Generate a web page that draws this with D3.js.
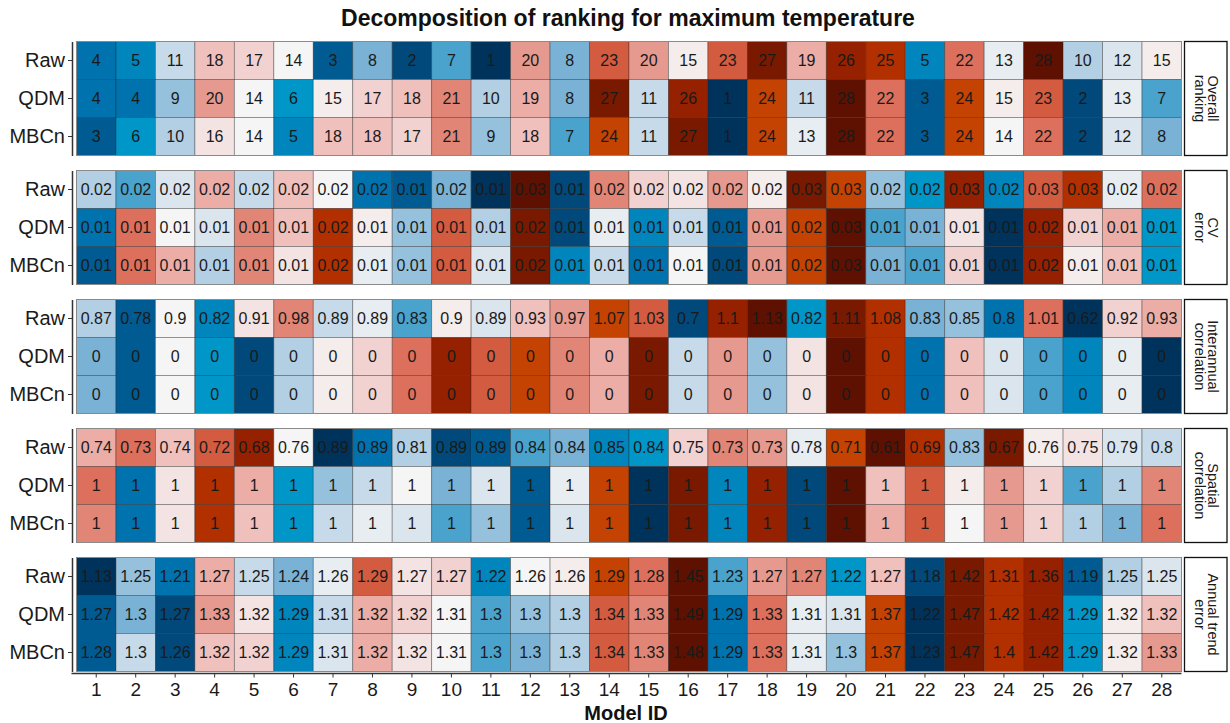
<!DOCTYPE html>
<html>
<head>
<meta charset="utf-8">
<script src="https://cdn.jsdelivr.net/npm/d3@7"></script>
<style>
  body { margin: 0; background: #fff; }
  svg { font-family: "Liberation Sans", Arial, sans-serif; }
  .axis text { fill: #1a1a1a; }
  .axis path, .axis line { stroke: #333; }
</style>
</head>
<body>
<div class="heatmap"></div>
<script>
const MODELS = [1, 2, 3, 4, 5, 6, 7, 8, 9, 10, 11, 12, 13, 14, 15, 16, 17, 18, 19, 20, 21, 22, 23, 24, 25, 26, 27, 28];
const METHODS = ["Raw", "QDM", "MBCn"];
const STRIPS = [["Overall", "ranking"], ["CV", "error"], ["Interannual", "correlation"], ["Spatial", "correlation"], ["Annual trend", "error"]];

// Overall ranking (value is also the rank)
const overallRaw  = [4, 5, 11, 18, 17, 14, 3, 8, 2, 7, 1, 20, 8, 23, 20, 15, 23, 27, 19, 26, 25, 5, 22, 13, 28, 10, 12, 15];
const overallQdm  = [4, 4, 9, 20, 14, 6, 15, 17, 18, 21, 10, 19, 8, 27, 11, 26, 1, 24, 11, 28, 22, 3, 24, 15, 23, 2, 13, 7];
const overallMbcn = [3, 6, 10, 16, 14, 5, 18, 18, 17, 21, 9, 18, 7, 24, 11, 27, 1, 24, 13, 28, 22, 3, 24, 14, 22, 2, 12, 8];

// CV error
const cvRaw  = [0.02, 0.02, 0.02, 0.02, 0.02, 0.02, 0.02, 0.02, 0.01, 0.02, 0.01, 0.03, 0.01, 0.02, 0.02, 0.02, 0.02, 0.02, 0.03, 0.03, 0.02, 0.02, 0.03, 0.02, 0.03, 0.03, 0.02, 0.02];
const cvQdm  = [0.01, 0.01, 0.01, 0.01, 0.01, 0.01, 0.02, 0.01, 0.01, 0.01, 0.01, 0.02, 0.01, 0.01, 0.01, 0.01, 0.01, 0.01, 0.02, 0.03, 0.01, 0.01, 0.01, 0.01, 0.02, 0.01, 0.01, 0.01];
const cvMbcn = [0.01, 0.01, 0.01, 0.01, 0.01, 0.01, 0.02, 0.01, 0.01, 0.01, 0.01, 0.02, 0.01, 0.01, 0.01, 0.01, 0.01, 0.01, 0.02, 0.03, 0.01, 0.01, 0.01, 0.01, 0.02, 0.01, 0.01, 0.01];
const cvRankRaw  = [10, 7, 12, 19, 11, 18, 14, 4, 3, 8, 1, 28, 2, 21, 17, 16, 20, 15, 27, 24, 9, 6, 26, 5, 23, 25, 13, 22];
const cvRankQdm  = [4, 22, 14, 12, 21, 18, 25, 15, 9, 23, 10, 27, 2, 13, 5, 11, 3, 20, 24, 28, 7, 8, 16, 1, 26, 17, 19, 6];
const cvRankMbcn = [3, 22, 19, 10, 21, 16, 25, 13, 9, 23, 12, 27, 5, 11, 4, 14, 2, 20, 24, 28, 8, 7, 17, 1, 26, 15, 18, 6];

// Interannual correlation
const interRaw  = [0.87, 0.78, 0.9, 0.82, 0.91, 0.98, 0.89, 0.89, 0.83, 0.9, 0.89, 0.93, 0.97, 1.07, 1.03, 0.7, 1.1, 1.13, 0.82, 1.11, 1.08, 0.83, 0.85, 0.8, 1.01, 0.62, 0.92, 0.93];
const interQdm  = [0, 0, 0, 0, 0, 0, 0, 0, 0, 0, 0, 0, 0, 0, 0, 0, 0, 0, 0, 0, 0, 0, 0, 0, 0, 0, 0, 0];
const interMbcn = [0, 0, 0, 0, 0, 0, 0, 0, 0, 0, 0, 0, 0, 0, 0, 0, 0, 0, 0, 0, 0, 0, 0, 0, 0, 0, 0, 0];
const interRankRaw  = [10, 3, 14, 5, 16, 21, 11, 13, 7, 15, 12, 18, 20, 24, 23, 2, 26, 28, 6, 27, 25, 8, 9, 4, 22, 1, 17, 19];
const interRankQdm  = [8, 3, 14, 6, 2, 10, 15, 17, 22, 26, 23, 24, 21, 19, 27, 11, 20, 9, 16, 28, 25, 4, 18, 12, 7, 5, 13, 1];
const interRankMbcn = [8, 3, 14, 6, 2, 10, 15, 17, 22, 26, 23, 24, 21, 19, 27, 11, 20, 9, 16, 28, 25, 4, 18, 12, 7, 5, 13, 1];

// Spatial correlation
const spatRaw  = [0.74, 0.73, 0.74, 0.72, 0.68, 0.76, 0.89, 0.89, 0.81, 0.89, 0.89, 0.84, 0.84, 0.85, 0.84, 0.75, 0.73, 0.73, 0.78, 0.71, 0.61, 0.69, 0.83, 0.67, 0.76, 0.75, 0.79, 0.8];
const spatQdm  = [1, 1, 1, 1, 1, 1, 1, 1, 1, 1, 1, 1, 1, 1, 1, 1, 1, 1, 1, 1, 1, 1, 1, 1, 1, 1, 1, 1];
const spatMbcn = [1, 1, 1, 1, 1, 1, 1, 1, 1, 1, 1, 1, 1, 1, 1, 1, 1, 1, 1, 1, 1, 1, 1, 1, 1, 1, 1, 1];
const spatRankRaw  = [19, 22, 18, 23, 26, 14, 1, 4, 10, 2, 3, 7, 8, 5, 6, 17, 21, 20, 13, 24, 28, 25, 9, 27, 15, 16, 12, 11];
const spatRankQdm  = [22, 4, 16, 25, 19, 6, 9, 11, 14, 8, 12, 3, 13, 24, 1, 27, 5, 26, 2, 28, 18, 23, 15, 20, 17, 7, 10, 21];
const spatRankMbcn = [21, 4, 16, 25, 18, 6, 11, 13, 12, 7, 9, 3, 12, 24, 1, 27, 5, 26, 2, 28, 19, 23, 14, 20, 17, 10, 8, 22];

// Annual trend error
const trendRaw  = [1.13, 1.25, 1.21, 1.27, 1.25, 1.24, 1.26, 1.29, 1.27, 1.27, 1.22, 1.26, 1.26, 1.29, 1.28, 1.45, 1.23, 1.27, 1.27, 1.22, 1.27, 1.18, 1.42, 1.31, 1.36, 1.19, 1.25, 1.25];
const trendQdm  = [1.27, 1.3, 1.27, 1.33, 1.32, 1.29, 1.31, 1.32, 1.32, 1.31, 1.3, 1.3, 1.3, 1.34, 1.33, 1.49, 1.29, 1.33, 1.31, 1.31, 1.37, 1.22, 1.47, 1.42, 1.42, 1.29, 1.32, 1.32];
const trendMbcn = [1.28, 1.3, 1.26, 1.32, 1.32, 1.29, 1.31, 1.32, 1.32, 1.31, 1.3, 1.3, 1.3, 1.34, 1.33, 1.48, 1.29, 1.33, 1.31, 1.3, 1.37, 1.23, 1.47, 1.4, 1.42, 1.29, 1.32, 1.33];
const trendRankRaw  = [1, 9, 4, 19, 11, 8, 13, 23, 16, 17, 5, 14, 15, 24, 22, 28, 7, 20, 21, 6, 18, 2, 27, 25, 26, 3, 10, 12];
const trendRankQdm  = [3, 8, 2, 20, 16, 5, 11, 19, 17, 14, 7, 9, 10, 23, 21, 28, 4, 22, 13, 12, 24, 1, 27, 25, 26, 6, 15, 18];
const trendRankMbcn = [3, 11, 2, 18, 17, 5, 12, 19, 16, 14, 7, 8, 10, 23, 21, 28, 4, 22, 13, 9, 24, 1, 27, 25, 26, 6, 15, 20];

const PANELS = [
  { values: [overallRaw, overallQdm, overallMbcn], ranks: [overallRaw, overallQdm, overallMbcn] },
  { values: [cvRaw, cvQdm, cvMbcn], ranks: [cvRankRaw, cvRankQdm, cvRankMbcn] },
  { values: [interRaw, interQdm, interMbcn], ranks: [interRankRaw, interRankQdm, interRankMbcn] },
  { values: [spatRaw, spatQdm, spatMbcn], ranks: [spatRankRaw, spatRankQdm, spatRankMbcn] },
  { values: [trendRaw, trendQdm, trendMbcn], ranks: [trendRankRaw, trendRankQdm, trendRankMbcn] }
];

const WIDTH = 1230, HEIGHT = 723;
const LEFT = 76.5, RIGHT = 1181.5;
const PANEL_TOP = 41.5, PANEL_H = 114, PANEL_GAP = 15;
const STRIP_X = 1184.5, STRIP_W = 42.5;

// rank -> fill colour (blue = best, dark red = worst)
const color = d3.scaleLinear()
  .domain([1, 2, 3, 4, 5, 6, 7, 8, 10, 12, 14, 16, 18, 20, 22, 23, 24, 25, 26, 27, 28])
  .range(["#00335c", "#00497a", "#005b92", "#0072ae", "#0085bd", "#0096c8", "#4aa3cc", "#79b2d5",
          "#b3cfe4", "#dbe5ee", "#f5f5f5", "#f4e3e3", "#f0c0bc", "#e69a8f", "#dc705c", "#d35b3f",
          "#c44302", "#b22f00", "#952100", "#791a00", "#5e1100"])
  .interpolate(d3.interpolateRgb)
  .clamp(true);

const svg = d3.select(".heatmap").append("svg").attr("width", WIDTH).attr("height", HEIGHT);

// Title
svg.append("text")
  .attr("x", 628).attr("y", 26)
  .attr("text-anchor", "middle")
  .attr("font-size", 23).attr("font-weight", "bold")
  .attr("fill", "#111")
  .text("Decomposition of ranking for maximum temperature");

const x = d3.scaleBand().domain(MODELS).range([LEFT, RIGHT]);

PANELS.forEach((panel, i) => {
  const top = PANEL_TOP + i * (PANEL_H + PANEL_GAP);
  const y = d3.scaleBand().domain(METHODS).range([top, top + PANEL_H]);

  const cells = [];
  METHODS.forEach((m, r) => {
    MODELS.forEach((id, c) => {
      cells.push({ method: m, model: id, value: panel.values[r][c], rank: panel.ranks[r][c] });
    });
  });

  const g = svg.append("g").attr("class", "panel");

  g.selectAll("rect.cell").data(cells).enter().append("rect")
    .attr("class", "cell")
    .attr("x", d => x(d.model))
    .attr("y", d => y(d.method))
    .attr("width", x.bandwidth())
    .attr("height", y.bandwidth())
    .attr("fill", d => color(d.rank))
    .attr("stroke", "#222")
    .attr("stroke-opacity", 0.45)
    .attr("stroke-width", 0.8);

  g.selectAll("text.val").data(cells).enter().append("text")
    .attr("class", "val")
    .attr("x", d => x(d.model) + x.bandwidth() / 2)
    .attr("y", d => y(d.method) + y.bandwidth() / 2)
    .attr("dy", "0.36em")
    .attr("text-anchor", "middle")
    .attr("font-size", 16)
    .attr("fill", "#1a1a1a")
    .text(d => String(d.value));

  // panel border
  g.append("rect")
    .attr("x", LEFT).attr("y", top)
    .attr("width", RIGHT - LEFT).attr("height", PANEL_H)
    .attr("fill", "none").attr("stroke", "#8a8a8a").attr("stroke-width", 1);

  // y axis
  const yAxis = svg.append("g")
    .attr("class", "axis")
    .attr("transform", `translate(${LEFT - 4.5}, 0)`)
    .call(d3.axisLeft(y).tickSize(4).tickSizeOuter(0).tickPadding(3));
  yAxis.select(".domain").attr("stroke-width", 1.5);
  yAxis.selectAll("text").attr("font-size", 20);

  // strip on the right
  const strip = svg.append("g");
  strip.append("rect")
    .attr("x", STRIP_X).attr("y", top)
    .attr("width", STRIP_W).attr("height", PANEL_H)
    .attr("fill", "#fff").attr("stroke", "#111").attr("stroke-width", 1.3);
  const st = strip.append("text")
    .attr("transform", `translate(${STRIP_X + STRIP_W / 2}, ${top + PANEL_H / 2}) rotate(90)`)
    .attr("text-anchor", "middle")
    .attr("font-size", 14.5)
    .attr("fill", "#1a1a1a");
  STRIPS[i].forEach((line, k) => {
    st.append("tspan").attr("x", 0).attr("y", k === 0 ? -2.5 : 11).text(line);
  });
});

// x axis
const bottom = PANEL_TOP + 4 * (PANEL_H + PANEL_GAP) + PANEL_H;
const xAxis = svg.append("g")
  .attr("class", "axis")
  .attr("transform", `translate(0, ${bottom + 2})`)
  .call(d3.axisBottom(x).tickSize(4).tickSizeOuter(0).tickPadding(5));
xAxis.select(".domain").attr("stroke-width", 1.5).attr("d", `M${LEFT - 5},0H${RIGHT}`);
xAxis.selectAll("text").attr("font-size", 19);

svg.append("text")
  .attr("x", 626).attr("y", 720)
  .attr("text-anchor", "middle")
  .attr("font-size", 20).attr("font-weight", "bold")
  .attr("fill", "#111")
  .text("Model ID");
</script>
</body>
</html>
